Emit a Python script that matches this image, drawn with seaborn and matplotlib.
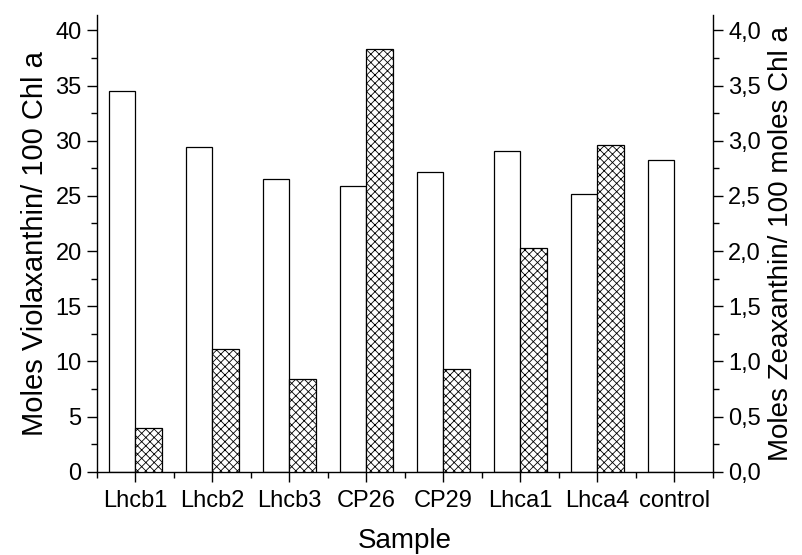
import numpy as np
import pandas as pd
import matplotlib
matplotlib.use("Agg")
import matplotlib.pyplot as plt
import seaborn as sns
from matplotlib.ticker import MultipleLocator, FixedLocator, FuncFormatter

# values
samples = ["Lhcb1", "Lhcb2", "Lhcb3", "CP26", "CP29", "Lhca1", "Lhca4", "control"]
violaxanthin = [34.5, 29.4, 26.5, 25.9, 27.2, 29.1, 25.2, 28.3]
zeaxanthin = [0.40, 1.11, 0.84, 3.83, 0.93, 2.03, 2.96, np.nan]
pigments = ["Violaxanthin", "Zeaxanthin"]

sns.set_style("ticks")
plt.rcParams["font.family"] = ["Liberation Sans", "DejaVu Sans"]
plt.rcParams["hatch.linewidth"] = 0.6
plt.rcParams["hatch.color"] = "#222222"

df = pd.DataFrame({
    "Sample": samples * 2,
    "Pigment": [pigments[0]] * len(samples) + [pigments[1]] * len(samples),
    "Value": violaxanthin + zeaxanthin,
})

fig = plt.figure(figsize=(8.03, 5.55), dpi=100)
ax = fig.add_axes([97 / 803, 83.3 / 555, (713 - 97) / 803, (471.7 - 15) / 555])
ax2 = ax.twinx()

pal = {p: "white" for p in pigments}
common = dict(x="Sample", y="Value", hue="Pigment", hue_order=pigments, order=samples,
              dodge=True, width=0.7, palette=pal, edgecolor="black", linewidth=0.9,
              legend=False, saturation=1)
sns.barplot(data=df[df.Pigment == "Violaxanthin"], ax=ax, **common)
sns.barplot(data=df[(df.Pigment == "Zeaxanthin")].dropna(), ax=ax2, **common)
for p in ax2.patches:
    p.set_hatch("xxxx")

ax.set_xlim(-0.5, 7.5)
ax.set_ylim(0, 41.4)
ax2.set_ylim(0, 4.14)

ax.yaxis.set_major_locator(MultipleLocator(5))
ax.yaxis.set_minor_locator(MultipleLocator(2.5))
ax2.yaxis.set_major_locator(MultipleLocator(0.5))
ax2.yaxis.set_minor_locator(MultipleLocator(0.25))
ax2.yaxis.set_major_formatter(FuncFormatter(lambda v, _: f"{v:.1f}".replace(".", ",")))
ax.xaxis.set_minor_locator(FixedLocator(np.arange(-0.5, 8, 1)))

for a in (ax, ax2):
    a.tick_params(which="major", direction="out", length=7, width=1, color="black")
    a.tick_params(which="minor", direction="out", length=4, width=1, color="black")
    a.spines["top"].set_visible(False)
    for s in a.spines.values():
        s.set_linewidth(1)
        s.set_color("black")
ax.spines["right"].set_visible(False)
ax2.spines["left"].set_visible(False)
ax2.spines["bottom"].set_visible(False)

ax.tick_params(axis="y", labelsize=17, pad=4, labelcolor="black")
ax.tick_params(axis="x", labelsize=17, pad=6, labelcolor="black")
ax2.tick_params(axis="y", labelsize=17, pad=4, labelcolor="black")

ax.set_xlabel("Sample", fontsize=20, labelpad=12, color="black")
ax.set_ylabel("Moles Violaxanthin/ 100 Chl a", fontsize=21, labelpad=5, color="black")
ax2.set_ylabel("Moles Zeaxanthin/ 100 moles Chl a", fontsize=20, labelpad=5, color="black")

fig.savefig("out.png", dpi=100)
